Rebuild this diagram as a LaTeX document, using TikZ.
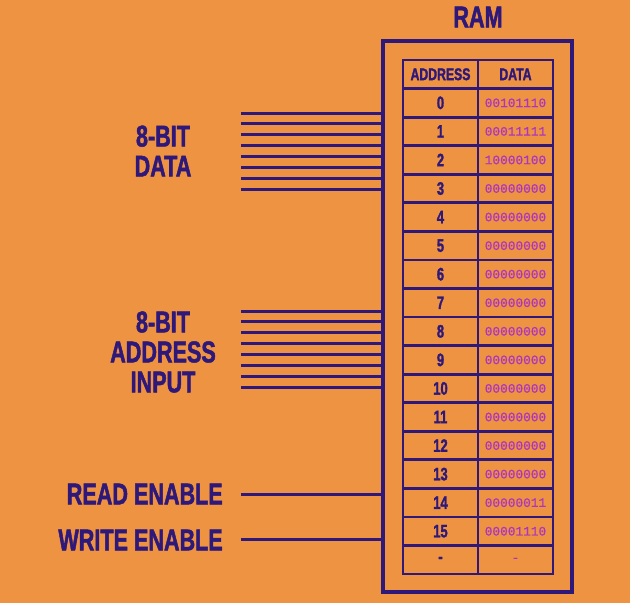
\documentclass[tikz,border=0pt]{standalone}
\usepackage{fontspec}
\newfontfamily\condfont[FakeStretch=0.72,FakeBold=1.6]{Liberation Sans Bold}
\newfontfamily\bitfont[FakeBold=0.8]{Liberation Mono}
\definecolor{bgorange}{RGB}{238,147,66}
\definecolor{ramblue}{RGB}{46,24,122}
\definecolor{bitpink}{RGB}{172,52,192}
\tikzset{
  frame/.style={draw=ramblue, line width=4pt, inner sep=0pt, outer sep=0pt},
  cell/.style={draw=ramblue, line width=2.8pt, minimum width=75pt, minimum height=28.56pt,
    inner sep=0pt, outer sep=0pt, text=ramblue, font=\condfont\fontsize{17}{17}\selectfont},
  bits/.style={text=bitpink, font=\bitfont\fontsize{12.8}{12.8}\selectfont},
  wire/.style={draw=ramblue, line width=3pt},
  tag/.style={text=ramblue, align=center, inner sep=0pt, font=\condfont\fontsize{30}{30}\selectfont},
}

\begin{document}
\begin{tikzpicture}[x=1pt,y=-1pt]
  \fill[bgorange] (0,0) rectangle (630,603);
  \useasboundingbox (0,0) rectangle (630,603);

  % the memory chip
  \node[frame, minimum width=189pt, minimum height=551pt] (ram) at (477.5,316.5) {};
  \node[tag] (ramtitle) at (478,17) {RAM};

  % table
  \node[cell] (addrhead) at (440.5,74.28) {ADDRESS};
  \node[cell] (datahead) at (515.5,74.28) {DATA};
  \foreach \v [count=\i from 0] in {00101110,00011111,10000100,00000000,00000000,00000000,
      00000000,00000000,00000000,00000000,00000000,00000000,00000000,00000000,00000011,00001110} {
    \node[cell, font=\condfont\fontsize{18}{18}\selectfont] (addr\i) at (440.5,{60+28.56*(\i+1.5)}) {\i};
    \node[cell, bits] (data\i) at (515.5,{60+28.56*(\i+1.5)}) {\v};
  }
  \node[cell, font=\condfont\fontsize{18}{18}\selectfont] (addrend) at (440.5,{60+28.56*17.5}) {-};
  \node[cell, bits] (dataend) at (515.5,{60+28.56*17.5}) {-};

  % inputs
  \node[tag] (datalbl) at (163,151) {8-BIT\\DATA};
  \node[tag] (addrlbl) at (163,352) {8-BIT\\ADDRESS\\INPUT};
  \node[tag, anchor=east] (readlbl) at (223,494) {READ ENABLE};
  \node[tag, anchor=east] (writelbl) at (223,540) {WRITE ENABLE};

  \foreach \k in {0,...,7} {
    \coordinate (din\k) at (241,{113+10.86*\k});
    \coordinate (ain\k) at (241,{311+10.86*\k});
    \draw[wire] (din\k) -- (din\k -| ram.west);
    \draw[wire] (ain\k) -- (ain\k -| ram.west);
  }
  \coordinate (rd) at (241,494);
  \coordinate (wr) at (241,539);
  \draw[wire] (rd) -- (rd -| ram.west);
  \draw[wire] (wr) -- (wr -| ram.west);
\end{tikzpicture}
\end{document}
